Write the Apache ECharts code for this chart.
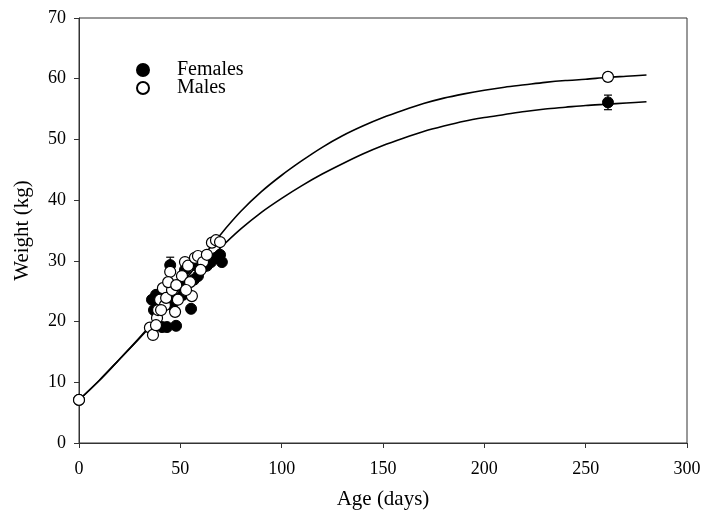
<!DOCTYPE html>
<html><head><meta charset="utf-8">
<script src="https://cdn.jsdelivr.net/npm/echarts@6/dist/echarts.min.js"></script>
<style>html,body{margin:0;padding:0;background:#fff}#c{width:714px;height:514px}</style>
</head><body><div id="c"></div>
<script>
// x: age (days), y: weight (kg)
const femalePoints = [
  [0,7.1],[36,23.6],[37,21.9],[39.5,22.7],[41,19.1],[43.4,19.1],[45,29.3],[47.9,19.3],
  [45.9,22.7],[49.8,26.0],[51.3,24.4],[53.3,26.5],[55.3,22.1],[56.7,26.9],[58.7,27.5],
  [60.7,28.8],[63.1,29.2],[65.1,29.8],[67.6,30.5],[69.6,31.0],[70.5,29.8],[42.4,25.2],
  [38,24.4],[52.3,28.5],[57.2,29.3],[48.3,23.6],[261,56.1]
];
const malePoints = [
  [0,7.1],[35,19.0],[36.5,17.8],[38.5,20.6],[39,21.9],[40,23.6],[41.4,25.5],[42.4,22.7],
  [43,23.9],[45,28.2],[45.9,25.2],[47.4,21.6],[48.8,23.6],[50.8,27.5],[52.3,29.8],
  [53.8,29.2],[54.8,26.5],[55.7,24.2],[57.2,30.5],[58.7,30.8],[61.2,29.8],[63.1,31.0],
  [65.6,33.0],[67.6,33.4],[69.6,33.1],[38,19.4],[40.5,21.9],[44,26.5],[48,26.0],
  [60,28.5],[52.8,25.2],[261,60.3]
];
// error bars: [x, low, high]
const femaleErr = [[261,54.9,57.3],[45,28.3,30.6]];
const maleErr = [[261,59.6,61.0]];
// fitted growth curves
const curveAges = [0,10,20,30,40,50,60,70,80,90,100,110,120,130,140,150,160,170,180,190,200,210,220,230,240,250,260,270,280];
const maleCurveW = [7.1,10.3,13.8,17.4,21.3,25.7,30.2,34.4,38.2,41.4,44.1,46.5,48.7,50.6,52.2,53.6,54.8,55.9,56.8,57.5,58.1,58.6,59.0,59.4,59.7,59.9,60.2,60.4,60.6];
const femaleCurveW = [7.1,10.3,13.8,17.3,21.0,25.0,28.8,32.2,35.3,38.0,40.3,42.4,44.3,46.0,47.6,49.0,50.2,51.3,52.2,53.0,53.6,54.1,54.6,55.0,55.3,55.6,55.8,56.0,56.2];
const xTicks = [0,50,100,150,200,250,300];
const yTicks = [0,10,20,30,40,50,60,70];

const FONT = '"Liberation Serif","DejaVu Serif",serif';
const chart = echarts.init(document.getElementById('c'));
function errItem(params, api){
  const x = api.value(0), lo = api.value(1), hi = api.value(2);
  const p1 = api.coord([x, lo]), p2 = api.coord([x, hi]);
  const w = 4;
  const st = {stroke:'#000', lineWidth:1.2};
  return {type:'group', children:[
    {type:'line', shape:{x1:p1[0],y1:p1[1],x2:p2[0],y2:p2[1]}, style:st},
    {type:'line', shape:{x1:p1[0]-w,y1:p1[1],x2:p1[0]+w,y2:p1[1]}, style:st},
    {type:'line', shape:{x1:p2[0]-w,y1:p2[1],x2:p2[0]+w,y2:p2[1]}, style:st}
  ]};
}
chart.setOption({
  animation:false,
  backgroundColor:'#fff',
  grid:{left:79, right:27, top:18, bottom:71, show:true, borderColor:'#333', borderWidth:1,
        outerBoundsMode:'none', containLabel:false},
  legend:{
    data:['Females','Males'], orient:'vertical', left:131, top:55,
    itemWidth:12, itemHeight:12, itemGap:-2,
    textStyle:{fontFamily:FONT, fontSize:20, color:'#000', lineHeight:18, padding:[0,0,0,23]}
  },
  xAxis:{
    type:'value', min:xTicks[0], max:xTicks[xTicks.length-1], interval:50,
    name:'Age (days)', nameLocation:'middle', nameGap:46,
    nameTextStyle:{fontFamily:FONT, fontSize:21, color:'#000'},
    axisLine:{show:true, lineStyle:{color:'#333', width:1}},
    axisTick:{show:true, length:5, lineStyle:{color:'#333'}},
    axisLabel:{fontFamily:FONT, fontSize:18, color:'#000', margin:17},
    splitLine:{show:false}
  },
  yAxis:{
    type:'value', min:yTicks[0], max:yTicks[yTicks.length-1], interval:10,
    name:'Weight (kg)', nameLocation:'middle', nameGap:46,
    nameTextStyle:{fontFamily:FONT, fontSize:21, color:'#000'},
    axisLine:{show:true, lineStyle:{color:'#333', width:1}},
    axisTick:{show:true, length:5, lineStyle:{color:'#333'}},
    axisLabel:{fontFamily:FONT, fontSize:18, color:'#000', margin:13},
    splitLine:{show:false}
  },
  series:[
    {name:'maleFit', type:'line', data:curveAges.map((a,i)=>[a,maleCurveW[i]]), smooth:0.3, symbol:'none',
     lineStyle:{color:'#000', width:1.6}, z:1, silent:true},
    {name:'femaleFit', type:'line', data:curveAges.map((a,i)=>[a,femaleCurveW[i]]), smooth:0.3, symbol:'none',
     lineStyle:{color:'#000', width:1.6}, z:1, silent:true},
    {name:'femaleErr', type:'custom', data:femaleErr, renderItem:errItem, z:2},
    {name:'maleErr', type:'custom', data:maleErr, renderItem:errItem, z:2},
    {name:'Females', type:'scatter', data:femalePoints, symbol:'circle', symbolSize:11,
     itemStyle:{color:'#000', borderColor:'#000', borderWidth:1, opacity:1}, z:3},
    {name:'Males', type:'scatter', data:malePoints, symbol:'circle', symbolSize:11,
     itemStyle:{color:'#fff', borderColor:'#000', borderWidth:1.2, opacity:1}, z:4}
  ]
});
</script></body></html>
